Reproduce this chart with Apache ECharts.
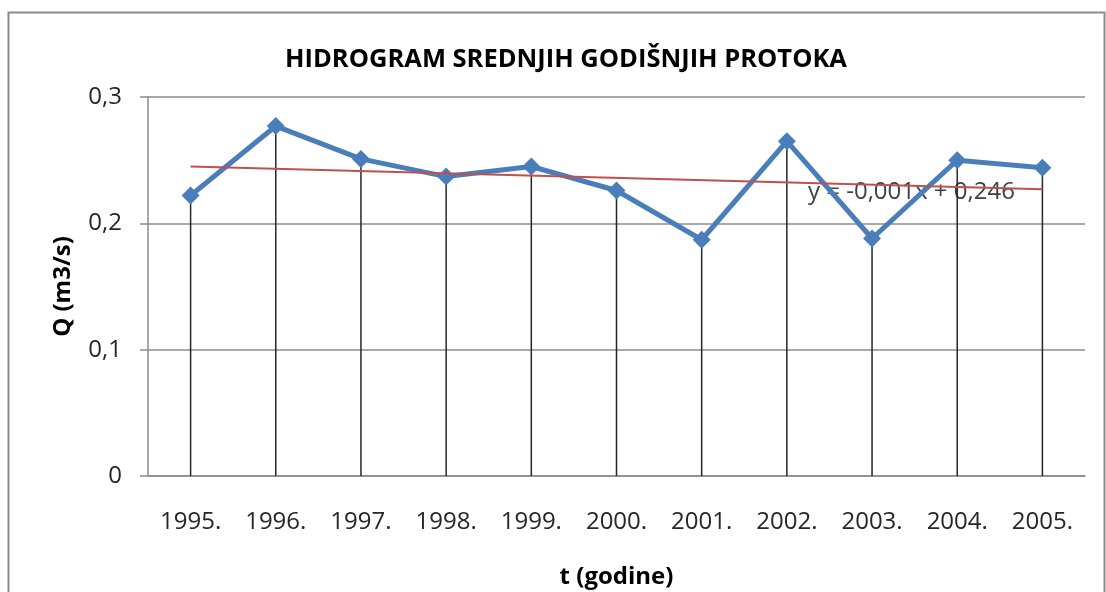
<!DOCTYPE html>
<html>
<head>
<meta charset="utf-8">
<script src="https://cdn.jsdelivr.net/npm/echarts@6/dist/echarts.min.js"></script>
<style>
  html, body { margin: 0; padding: 0; background: #fff; }
  #container { width: 1106px; height: 592px; }
</style>
</head>
<body>
<div id="container"></div>
<script>
var years = ['1995.', '1996.', '1997.', '1998.', '1999.', '2000.', '2001.', '2002.', '2003.', '2004.', '2005.'];
var protok = [0.222, 0.277, 0.251, 0.237, 0.245, 0.226, 0.187, 0.265, 0.188, 0.250, 0.244];
// trend line, only its two ends
var trend = [0.245, null, null, null, null, null, null, null, null, null, 0.227];
var yTicks = ['0', '0,1', '0,2', '0,3'];
var trendText = 'y = -0,001x + 0,246';

var dom = document.getElementById('container');
var myChart = echarts.init(dom);
var font = '"Open Sans", sans-serif';

var option = {
    animation: false,
    graphic: [
        {
            type: 'rect', z: -10,
            shape: {x: 8.5, y: 12.5, width: 1096, height: 600},
            style: {fill: 'none', stroke: '#8c8c8c', lineWidth: 2}
        },
        {
            type: 'text', z: 1, x: 566, y: 60,
            style: {text: 'HIDROGRAM SREDNJIH GODIŠNJIH PROTOKA', font: 'bold 25.5px ' + font,
                    fill: '#000', textAlign: 'center', textVerticalAlign: 'middle'}
        },
        {
            type: 'text', z: 1, x: 808, y: 192,
            style: {text: trendText, font: '24px ' + font, fill: '#404040', textVerticalAlign: 'middle'}
        }
    ],
    grid: {left: 148, right: 21, top: 97, bottom: 116, outerBoundsMode: 'none'},
    xAxis: {
        type: 'category',
        data: years,
        boundaryGap: true,
        name: 't (godine)',
        nameLocation: 'middle',
        nameGap: 89,
        nameTextStyle: {fontFamily: font, fontWeight: 'bold', fontSize: 24, color: '#000'},
        axisLine: {lineStyle: {color: '#8c8c8c', width: 1.5}},
        axisTick: {show: false},
        axisLabel: {margin: 34, fontFamily: font, fontSize: 24, color: '#262626'}
    },
    yAxis: {
        type: 'value',
        min: 0, max: 0.3, interval: 0.1,
        name: 'Q (m3/s)',
        nameLocation: 'middle',
        nameGap: 73,
        nameTextStyle: {fontFamily: font, fontWeight: 'bold', fontSize: 24, color: '#000'},
        axisLine: {show: true, lineStyle: {color: '#8c8c8c', width: 1.5}},
        axisTick: {show: true, length: 8, lineStyle: {color: '#8c8c8c', width: 1.5}},
        splitLine: {lineStyle: {color: '#8c8c8c', width: 1.5}},
        axisLabel: {
            margin: 26, fontFamily: font, fontSize: 24, color: '#262626',
            formatter: function (v) { return yTicks[Math.round(v * 10)]; }
        }
    },
    series: [
        {
            type: 'bar',
            data: protok,
            barWidth: 1.5,
            itemStyle: {color: '#262626'},
            z: 2
        },
        {
            type: 'line',
            data: trend,
            connectNulls: true,
            symbol: 'none',
            lineStyle: {color: '#c0504d', width: 2},
            z: 4
        },
        {
            type: 'line',
            data: protok,
            symbol: 'diamond',
            symbolSize: 18,
            itemStyle: {color: '#4a7ebb'},
            lineStyle: {color: '#4a7ebb', width: 5},
            z: 3
        }
    ]
};

myChart.setOption(option);
</script>
</body>
</html>
